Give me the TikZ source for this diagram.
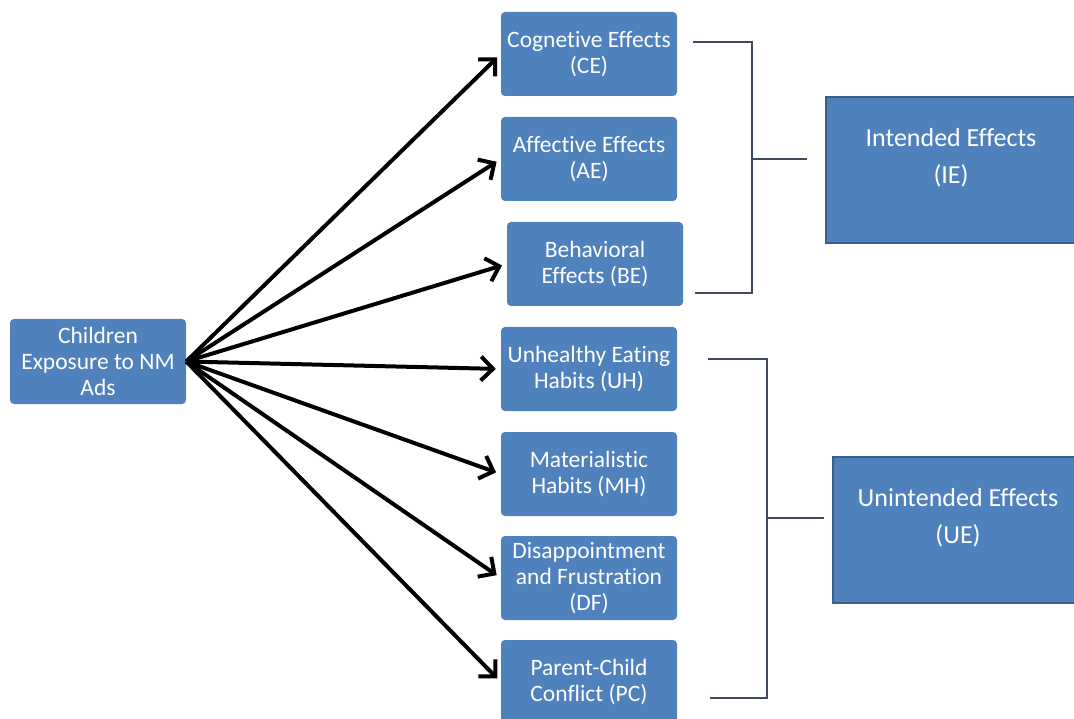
\documentclass[tikz,border=0pt]{standalone}
\usepackage{fontspec}
\setmainfont{Carlito}[Ligatures=NoCommon]
\usetikzlibrary{arrows.meta}
\definecolor{boxblue}{HTML}{4F81BD}
\definecolor{boxedge}{HTML}{3A5F8B}
\definecolor{bracketgray}{HTML}{3E4966}
\tikzset{
  effect/.style={fill=boxblue, text=white, rounded corners=4pt,
    minimum width=176pt, minimum height=84pt, align=center, inner sep=0pt,
    font=\fontsize{23.5}{26}\selectfont},
  group/.style={fill=boxblue, draw=boxedge, line width=2.5pt,
    minimum width=250pt, minimum height=146pt},
  grouptext/.style={text=white, align=center, font=\fontsize{26}{37}\selectfont},
  arr/.style={-{Straight Barb[length=12pt,width=24pt]}, line width=4pt, shorten >=5pt},
  bracket/.style={draw=bracketgray, line width=2pt}
}
\begin{document}
\begin{tikzpicture}[x=1pt,y=-1pt]
  \useasboundingbox (0,0) rectangle (1074,719);
  \node[effect,minimum height=85pt] (CH) at (98,361.5) {Children\\Exposure to NM\\Ads};
  \node[effect] (CE) at (589,54)  {Cognetive Effects\\(CE)};
  \node[effect] (AE) at (589,159) {Affective Effects\\(AE)};
  \node[effect] (BE) at (595,264) {Behavioral\\Effects (BE)};
  \node[effect] (UH) at (589,369) {Unhealthy Eating\\Habits (UH)};
  \node[effect] (MH) at (589,474) {Materialistic\\Habits (MH)};
  \node[effect] (DF) at (589,578) {Disappointment\\and Frustration\\(DF)};
  \node[effect] (PC) at (589,682) {Parent-Child\\Conflict (PC)};
  \foreach \n in {CE,AE,BE,UH,MH,DF,PC}
    \draw[arr] (CH.east) -- (\n.west);
  % the two groups on the right
  \node[group] (IE) at (951,170) {};
  \node[grouptext] (IEtext) at ([yshift=12pt]IE.center) {Intended Effects\\(IE)};
  \node[group] (UE) at (958,530) {};
  \node[grouptext] (UEtext) at ([yshift=12pt]UE.center) {Unintended Effects\\(UE)};
  \coordinate (IEtop) at (693,42);
  \coordinate (IEmid) at (752,159);
  \coordinate (IEbot) at (695,293);
  \draw[bracket] (IEtop) -| (IEmid) |- (IEbot);
  \draw[bracket] (IEmid) -- ([xshift=-18pt]IEmid -| IE.west);
  \coordinate (UEtop) at (708,359);
  \coordinate (UEmid) at (767,518);
  \coordinate (UEbot) at (710,698);
  \draw[bracket] (UEtop) -| (UEmid) |- (UEbot);
  \draw[bracket] (UEmid) -- ([xshift=-8pt]UEmid -| UE.west);
\end{tikzpicture}
\end{document}
